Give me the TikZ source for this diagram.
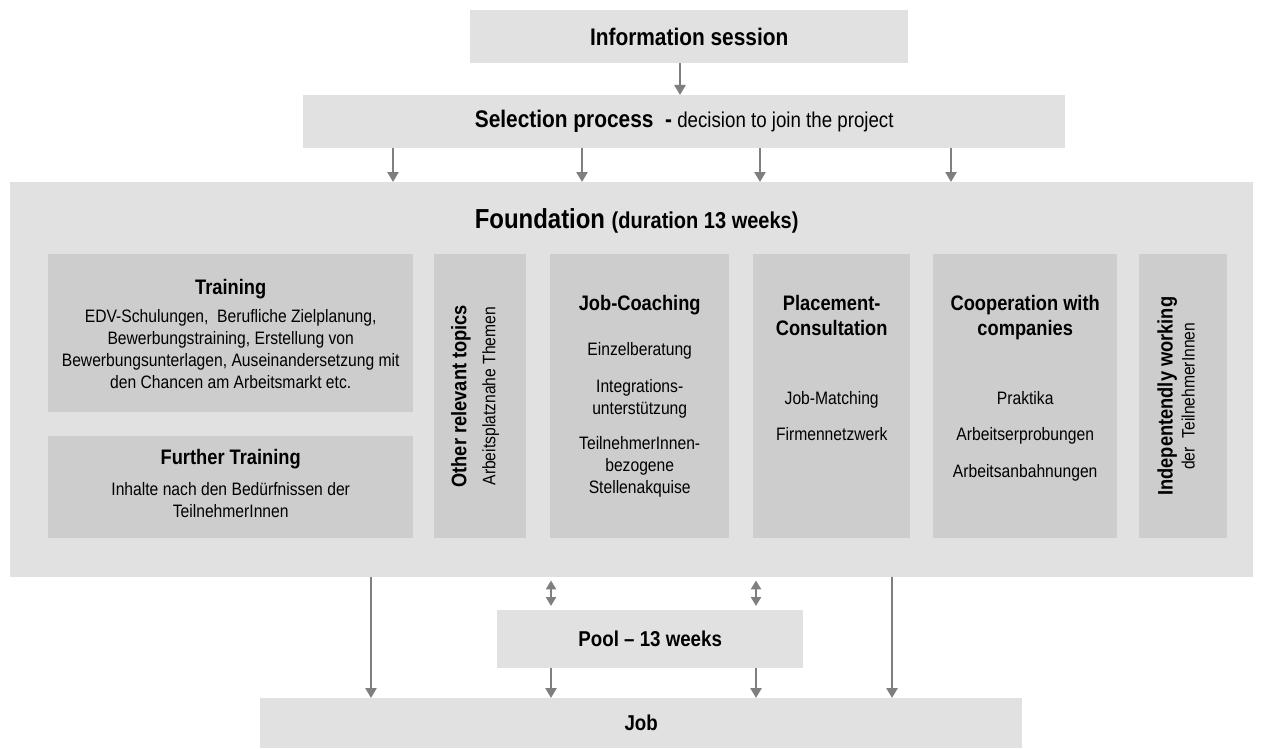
\documentclass[tikz,border=0pt]{standalone}
\usepackage{fontspec}
\setmainfont{Liberation Sans}[FakeStretch=0.87]
\usepackage{tikz}
\usetikzlibrary{arrows.meta,positioning}
\definecolor{FlowLight}{HTML}{E1E1E1}
\definecolor{FlowMid}{HTML}{CDCDCD}
\definecolor{FlowArrow}{HTML}{7F7F7F}
\newcommand{\toptext}{\bfseries\fontsize{24}{28}\selectfont}
\newcommand{\midtext}{\bfseries\fontsize{21.5}{26}\selectfont}
\newcommand{\boxhead}{\bfseries\fontsize{21}{25}\selectfont}
\newcommand{\boxtext}{\fontsize{18}{22}\selectfont}

\begin{document}
\begin{tikzpicture}[
  x=1pt, y=-1pt,
  outbox/.style={fill=FlowLight, anchor=north west, inner sep=0pt},
  inbox/.style={fill=FlowMid, anchor=north west, inner sep=0pt, minimum height=284pt},
  txt/.style={align=center, inner sep=0pt, font=\boxtext},
  rot/.style={align=center, inner sep=0pt, rotate=90, font=\boxtext},
  arrow/.style={-{Triangle[length=10pt,width=11pt]}, line width=2.6pt, draw=FlowArrow},
  twoway/.style={{Triangle[length=9pt,width=10pt]}-{Triangle[length=9pt,width=10pt]}, line width=2.6pt, draw=FlowArrow, shorten <=3pt, shorten >=4pt}
]
  \fill[white] (0,0) rectangle (1263,749);
  \useasboundingbox (0,0) rectangle (1263,749);

  % top of the flow
  \node[outbox, minimum width=438pt, minimum height=53pt, font=\toptext] (info) at (470,10) {Information session};
  \node[outbox, minimum width=762pt, minimum height=53pt, font=\fontsize{21.5}{26}\selectfont] (select) at (303,95) {{\toptext Selection process\ \ -} decision to join the project};

  % foundation phase
  \node[outbox, minimum width=1243pt, minimum height=395pt] (found) at (10,182) {};
  \node[font=\bfseries\fontsize{27.5}{32}\selectfont, inner sep=0pt, below=26pt of found.north, xshift=5pt] (foundtitle) {Foundation {\fontsize{23}{28}\selectfont(duration 13 weeks)}};

  \node[inbox, minimum width=365pt, minimum height=158pt] (train) at (48,254) {};
  \node[inbox, minimum width=365pt, minimum height=102pt] (further) at (48,436) {};
  \node[inbox, minimum width=92pt] (other) at (434,254) {};
  \node[inbox, minimum width=179pt] (coach) at (550,254) {};
  \node[inbox, minimum width=157pt] (place) at (753,254) {};
  \node[inbox, minimum width=184pt] (coop) at (933,254) {};
  \node[inbox, minimum width=88pt] (indep) at (1139,254) {};

  \node[txt, below=25pt of train.north] (traintxt) {{\boxhead Training}\\[6pt]
    EDV-Schulungen,\ \ Berufliche Zielplanung,\\ Bewerbungstraining, Erstellung von\\
    Bewerbungsunterlagen, Auseinandersetzung mit\\ den Chancen am Arbeitsmarkt etc.};
  \node[txt, below=13pt of further.north] (furthertxt) {{\boxhead Further Training}\\[9pt]
    Inhalte nach den Bedürfnissen der\\ TeilnehmerInnen};
  \node[rot] (othertxt) at ([xshift=-5pt]other.center) {{\boxhead Other relevant topics}\\[7pt] Arbeitsplatznahe Themen};
  \node[txt, below=41pt of coach.north] (coachtxt) {{\boxhead Job-Coaching}\\[23pt]
    Einzelberatung\\[15pt] Integrations-\\ unterstützung\\[13pt]
    TeilnehmerInnen-\\ bezogene\\ Stellenakquise};
  \node[txt, below=41pt of place.north] (placetxt) {{\boxhead Placement-}\\[3pt]{\boxhead Consultation}\\[47pt]
    Job-Matching\\[14pt] Firmennetzwerk};
  \node[txt, below=41pt of coop.north] (cooptxt) {{\boxhead Cooperation with}\\[3pt]{\boxhead companies}\\[47pt]
    Praktika\\[14pt] Arbeitserprobungen\\[15pt] Arbeitsanbahnungen};
  \node[rot] (indeptxt) at ([xshift=-7pt]indep.center) {{\boxhead Indepentendly working}\\ der\ \ TeilnehmerInnen};

  % bottom of the flow
  \node[outbox, minimum width=306pt, minimum height=58pt, font=\midtext] (pool) at (497,610) {Pool -- 13 weeks};
  \node[outbox, minimum width=762pt, minimum height=50pt, font=\midtext] (job) at (260,698) {Job};

  % connectors
  \coordinate (ai) at (680,0);
  \draw[arrow] (info.south -| ai) -- (select.north -| ai);
  \foreach \ax in {393,582,760,951} {
    \coordinate (as) at (\ax,0);
    \draw[arrow] (select.south -| as) -- (found.north -| as);
  }
  \foreach \ax in {371,892} {
    \coordinate (aj) at (\ax,0);
    \draw[arrow] (found.south -| aj) -- (job.north -| aj);
  }
  \foreach \ax in {551,756} {
    \coordinate (ap) at (\ax,0);
    \draw[twoway] (found.south -| ap) -- (pool.north -| ap);
    \draw[arrow] (pool.south -| ap) -- (job.north -| ap);
  }
\end{tikzpicture}
\end{document}
